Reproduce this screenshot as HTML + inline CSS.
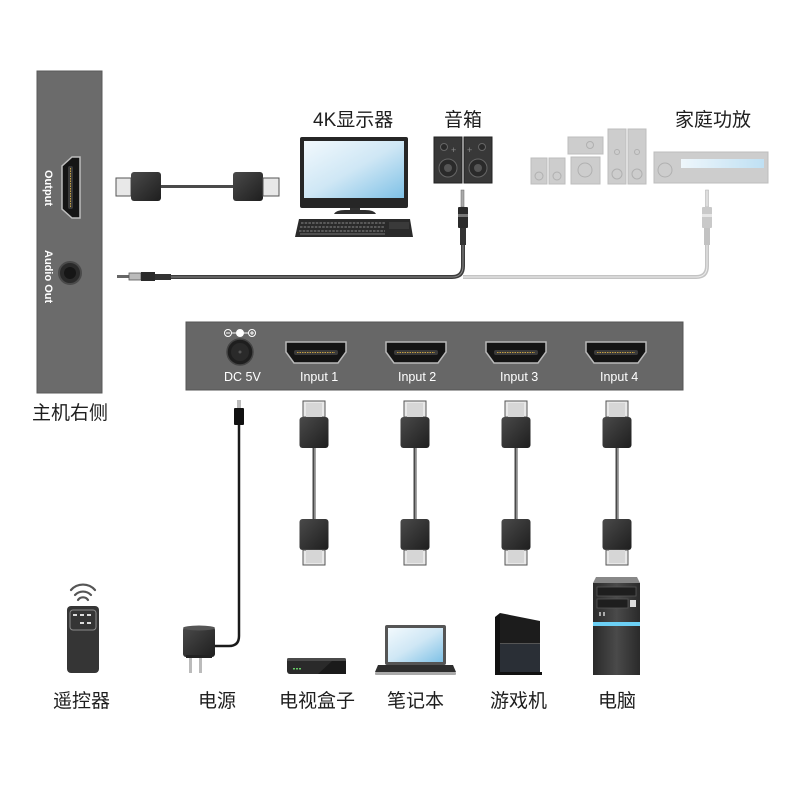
<!DOCTYPE html>
<html><head><meta charset="utf-8"><style>
html,body{margin:0;padding:0;background:#fff;width:800px;height:800px;overflow:hidden}
svg{display:block}
.cn{font-family:"Liberation Sans","Noto Sans CJK SC",sans-serif;font-size:19px;fill:#1e1e1e}
.en{font-family:"Liberation Sans",sans-serif;font-size:12.5px;fill:#fff}
</style></head><body>
<svg width="800" height="800" viewBox="0 0 800 800" xmlns="http://www.w3.org/2000/svg">
<defs>
<linearGradient id="blk" x1="0" y1="0" x2="1" y2="1"><stop offset="0" stop-color="#4a4a4a"/><stop offset="1" stop-color="#1e1e1e"/></linearGradient>
<linearGradient id="scr" x1="0" y1="0" x2="1" y2="1"><stop offset="0" stop-color="#f2f9fd"/><stop offset="0.5" stop-color="#cfe7f5"/><stop offset="1" stop-color="#7fc1e6"/></linearGradient>
<linearGradient id="pc" x1="0" y1="0" x2="1" y2="0"><stop offset="0" stop-color="#2a2a2a"/><stop offset="0.5" stop-color="#4a4a4a"/><stop offset="1" stop-color="#2a2a2a"/></linearGradient>
<linearGradient id="bar" x1="0" y1="0" x2="1" y2="0"><stop offset="0" stop-color="#eef6fb"/><stop offset="1" stop-color="#bfe0f3"/></linearGradient>
<g id="hport">
<path d="M-30,0 H30 V10 L22,21 H-22 L-30,10 Z" fill="#141414" stroke="#b8b8b8" stroke-width="1.5"/>
<rect x="-22" y="8" width="44" height="5" rx="2" fill="#3a3a3a"/>
<line x1="-19" y1="10.5" x2="19" y2="10.5" stroke="#c8a040" stroke-width="1" stroke-dasharray="1.5 1"/>
</g>
<g id="vcab">
<rect x="-11" y="401" width="22" height="16" fill="#e8e8e8" stroke="#555" stroke-width="1"/>
<rect x="-8" y="403" width="16" height="14" fill="#d6d6d6"/>
<rect x="-14.5" y="417" width="29" height="31" rx="3" fill="url(#blk)"/>
<line x1="0" y1="448" x2="0" y2="519" stroke="#4a4a4a" stroke-width="3"/>
<line x1="0.5" y1="448" x2="0.5" y2="519" stroke="#8a8a8a" stroke-width="1"/>
<rect x="-14.5" y="519" width="29" height="31" rx="3" fill="url(#blk)"/>
<rect x="-11" y="550" width="22" height="15" fill="#e8e8e8" stroke="#555" stroke-width="1"/>
<rect x="-8" y="550" width="16" height="13" fill="#d6d6d6"/>
</g>
</defs>

<!-- left panel -->
<rect x="37" y="71" width="65" height="322" fill="#6b6b6b" stroke="#5a5a5a" stroke-width="1"/>
<path d="M80,157 V218 H72 L62,209 V166 L72,157 Z" fill="#151515" stroke="#bdbdbd" stroke-width="1.5"/>
<rect x="68" y="166" width="5" height="43" rx="2" fill="#3a3a3a"/>
<line x1="70.5" y1="168" x2="70.5" y2="207" stroke="#c8a040" stroke-width="1" stroke-dasharray="1.5 1"/>
<text class="en" transform="translate(45,170) rotate(90)" style="font-size:11px;font-weight:bold">Output</text>
<circle cx="70" cy="273" r="11" fill="#2a2a2a" stroke="#4a4a4a" stroke-width="2"/>
<circle cx="70" cy="273" r="6" fill="#161616"/>
<text class="en" transform="translate(45,250) rotate(90)" style="font-size:11px;font-weight:bold">Audio Out</text>
<text class="cn" x="32" y="419">主机右侧</text>

<!-- HDMI cable top -->
<rect x="116" y="178" width="15" height="18" fill="#e8e8e8" stroke="#555"/>
<rect x="131" y="172" width="30" height="29" rx="3" fill="url(#blk)"/>
<line x1="161" y1="186.5" x2="233" y2="186.5" stroke="#4a4a4a" stroke-width="3"/>
<rect x="233" y="172" width="30" height="29" rx="3" fill="url(#blk)"/>
<rect x="263" y="178" width="16" height="18" fill="#e8e8e8" stroke="#555"/>

<!-- labels top -->
<text class="cn" x="313" y="126">4K显示器</text>
<text class="cn" x="444" y="126">音箱</text>
<text class="cn" x="675" y="126">家庭功放</text>

<!-- monitor -->
<rect x="300" y="137" width="108" height="71" rx="2" fill="#262626"/>
<rect x="304" y="141" width="100" height="57" fill="url(#scr)"/>
<rect x="350" y="208" width="10" height="3" fill="#333"/>
<path d="M334,214 Q336,210 345,210 H365 Q374,210 376,214 Z" fill="#2e2e2e"/>
<path d="M299,219 H410 L413,237 H295 Z" fill="#2a2a2a"/>
<g stroke="#8a8a8a" stroke-width="1" stroke-dasharray="2.5 1.2">
<line x1="301" y1="223" x2="385" y2="223"/><line x1="300" y1="227" x2="385" y2="227"/><line x1="299" y1="231" x2="385" y2="231"/>
</g>
<rect x="389" y="222" width="20" height="7" fill="#3a3a3a"/>
<line x1="300" y1="234" x2="385" y2="234" stroke="#777" stroke-width="1"/>

<!-- speakers -->
<g>
<rect x="434" y="137" width="28" height="46" fill="#383838" stroke="#222"/>
<rect x="464" y="137" width="28" height="46" fill="#383838" stroke="#222"/>
<circle cx="448" cy="168" r="9" fill="#2a2a2a" stroke="#666"/><circle cx="448" cy="168" r="4" fill="#555"/>
<circle cx="478" cy="168" r="9" fill="#2a2a2a" stroke="#666"/><circle cx="478" cy="168" r="4" fill="#555"/>
<circle cx="444" cy="147" r="3.5" fill="#2a2a2a" stroke="#666"/>
<circle cx="482" cy="147" r="3.5" fill="#2a2a2a" stroke="#666"/>
<text x="451" y="153" font-family="Liberation Sans" font-size="9" fill="#888">+</text>
<text x="467" y="153" font-family="Liberation Sans" font-size="9" fill="#888">+</text>
</g>

<!-- home theater -->
<g fill="#cdcdcd" stroke="#bdbdbd">
<rect x="531" y="158" width="16" height="26"/>
<rect x="549" y="158" width="16" height="26"/>
<rect x="568" y="137" width="35" height="17"/>
<rect x="571" y="157" width="29" height="27"/>
<rect x="608" y="129" width="18" height="55"/>
<rect x="628" y="129" width="18" height="55"/>
<rect x="654" y="152" width="114" height="31"/>
</g>
<g fill="none" stroke="#b0b0b0">
<circle cx="539" cy="176" r="4"/><circle cx="557" cy="176" r="4"/>
<circle cx="590" cy="145" r="3.5"/><circle cx="585" cy="170" r="7"/>
<circle cx="617" cy="174" r="5"/><circle cx="637" cy="174" r="5"/>
<circle cx="617" cy="152" r="2.5"/><circle cx="637" cy="152" r="2.5"/>
<circle cx="665" cy="170" r="7"/>
</g>
<rect x="681" y="159" width="83" height="9" fill="url(#bar)"/>

<!-- audio cables -->
<path d="M170,277 H452 Q463,277 463,266 V244" fill="none" stroke="#3c3c3c" stroke-width="4"/>
<path d="M170,277 H452 Q463,277 463,266 V244" fill="none" stroke="#8a8a8a" stroke-width="1"/>
<path d="M463,277 H696 Q707,277 707,266 V244" fill="none" stroke="#c4c4c4" stroke-width="4"/>
<path d="M463,277 H696 Q707,277 707,266 V244" fill="none" stroke="#ececec" stroke-width="1"/>
<!-- left plug -->
<rect x="117" y="275" width="12" height="3" fill="#666"/>
<rect x="129" y="273" width="12" height="7" fill="#bbb" stroke="#555" stroke-width="0.8"/>
<rect x="141" y="272" width="14" height="9" fill="#2a2a2a"/>
<rect x="155" y="274" width="16" height="6" fill="#333"/>
<!-- speaker plug -->
<rect x="461" y="190" width="3" height="17" fill="#aaa" stroke="#666" stroke-width="0.5"/>
<rect x="458" y="207" width="10" height="21" rx="1" fill="#2a2a2a"/>
<rect x="458" y="214" width="10" height="3" fill="#777"/>
<rect x="460" y="228" width="6" height="17" fill="#333"/>
<!-- receiver plug -->
<rect x="705.5" y="190" width="3" height="17" fill="#ddd" stroke="#aaa" stroke-width="0.5"/>
<rect x="702" y="207" width="10" height="21" rx="1" fill="#c9c9c9"/>
<rect x="702" y="214" width="10" height="3" fill="#e6e6e6"/>
<rect x="704" y="228" width="6" height="17" fill="#c2c2c2"/>

<!-- bottom panel -->
<rect x="186" y="322" width="497" height="68" fill="#676767" stroke="#555" stroke-width="1"/>
<g stroke="#fff" stroke-width="1" fill="none">
<circle cx="228" cy="333" r="3.5"/><line x1="226" y1="333" x2="230" y2="333"/>
<line x1="231.5" y1="333" x2="236.5" y2="333"/>
<circle cx="240" cy="333" r="3.5" fill="#fff"/>
<line x1="243.5" y1="333" x2="248.5" y2="333"/>
<circle cx="252" cy="333" r="3.5"/><line x1="250" y1="333" x2="254" y2="333"/><line x1="252" y1="331" x2="252" y2="335"/>
</g>
<circle cx="240" cy="352" r="13" fill="#1e1e1e" stroke="#444" stroke-width="1.5"/>
<circle cx="240" cy="352" r="9" fill="#2a2a2a"/>
<circle cx="240" cy="352" r="1.5" fill="#555"/>
<text class="en" x="224" y="381">DC 5V</text>
<use href="#hport" x="316" y="342"/>
<use href="#hport" x="416" y="342"/>
<use href="#hport" x="516" y="342"/>
<use href="#hport" x="616" y="342"/>
<text class="en" x="300" y="381">Input 1</text>
<text class="en" x="398" y="381">Input 2</text>
<text class="en" x="500" y="381">Input 3</text>
<text class="en" x="600" y="381">Input 4</text>

<!-- HDMI cables down -->
<use href="#vcab" x="314" y="0"/>
<use href="#vcab" x="415" y="0"/>
<use href="#vcab" x="516" y="0"/>
<use href="#vcab" x="617" y="0"/>

<!-- power cable -->
<rect x="237" y="400" width="4" height="8" fill="#bbb"/>
<rect x="234" y="408" width="10" height="17" rx="1" fill="#111"/>
<path d="M239,425 V636 Q239,646 229,646 H215" fill="none" stroke="#1a1a1a" stroke-width="2.5"/>
<rect x="183" y="627" width="32" height="30" rx="3" fill="url(#blk)"/>
<ellipse cx="199" cy="628" rx="16" ry="2.5" fill="#555"/>
<rect x="186" y="655" width="26" height="3" fill="#222"/>
<rect x="189" y="658" width="3" height="15" fill="#bbb"/>
<rect x="199" y="658" width="3" height="15" fill="#bbb"/>

<!-- remote -->
<g fill="none" stroke="#555" stroke-width="2.2" stroke-linecap="round">
<path d="M78,600 A6,6 0 0 1 88,600"/>
<path d="M75,595 A11,11 0 0 1 91,595"/>
<path d="M71,590 A16,16 0 0 1 95,590"/>
</g>
<rect x="67" y="606" width="32" height="67" rx="4" fill="#353535"/>
<rect x="70" y="610" width="26" height="20" rx="3" fill="none" stroke="#8a8a8a" stroke-width="1"/>
<g fill="#ddd"><rect x="73" y="614" width="4" height="2"/><rect x="80" y="614" width="4" height="2"/><rect x="87" y="614" width="4" height="2"/>
<rect x="80" y="622" width="4" height="2"/><rect x="87" y="622" width="4" height="2"/></g>

<!-- TV box -->
<rect x="287" y="658" width="59" height="16" rx="3" fill="#2a2a2a"/>
<rect x="287" y="658" width="59" height="3" rx="1.5" fill="#4a4a4a"/>
<path d="M318,674 L332,661 H346 V674 Z" fill="#1a1a1a"/>
<g fill="#6c6"><rect x="293" y="668" width="2" height="1.5"/><rect x="296" y="668" width="2" height="1.5"/><rect x="299" y="668" width="2" height="1.5"/></g>

<!-- laptop -->
<rect x="385" y="625" width="61" height="40" rx="2" fill="#555"/>
<rect x="388" y="628" width="55" height="34" fill="url(#scr)"/>
<path d="M378,665 H453 L456,672 H375 Z" fill="#2e2e2e"/>
<rect x="375" y="672" width="81" height="3" rx="1" fill="#aaa"/>

<!-- PS4 -->
<path d="M495,617 L500,613 V673 L495,675 Z" fill="#111"/>
<path d="M500,613 L540,621 V643 H500 Z" fill="#1c1c1c"/>
<path d="M500,644 H540 V672 H500 Z" fill="#2a2f36"/>
<line x1="500" y1="643.5" x2="540" y2="643.5" stroke="#555" stroke-width="1"/>
<rect x="495" y="672" width="47" height="3" fill="#111"/>

<!-- PC tower -->
<path d="M596,577 H637 L640,583 H593 Z" fill="#888"/>
<rect x="593" y="583" width="47" height="92" fill="url(#pc)"/>
<rect x="597" y="587" width="39" height="9" fill="#1e1e1e" stroke="#555" stroke-width="0.8"/>
<rect x="597" y="599" width="31" height="9" fill="#1e1e1e" stroke="#555" stroke-width="0.8"/>
<rect x="630" y="600" width="6" height="7" fill="#ddd"/>
<rect x="599" y="612" width="2" height="4" fill="#aaa"/><rect x="603" y="612" width="2" height="4" fill="#aaa"/>
<rect x="593" y="622" width="47" height="4" fill="#6cd0f5"/>
<rect x="593" y="626" width="47" height="49" fill="url(#pc)" opacity="0.9"/>

<!-- bottom labels -->
<text class="cn" x="53" y="707">遥控器</text>
<text class="cn" x="198" y="707">电源</text>
<text class="cn" x="279" y="707">电视盒子</text>
<text class="cn" x="387" y="707">笔记本</text>
<text class="cn" x="490" y="707">游戏机</text>
<text class="cn" x="598" y="707">电脑</text>
</svg>
</body></html>
